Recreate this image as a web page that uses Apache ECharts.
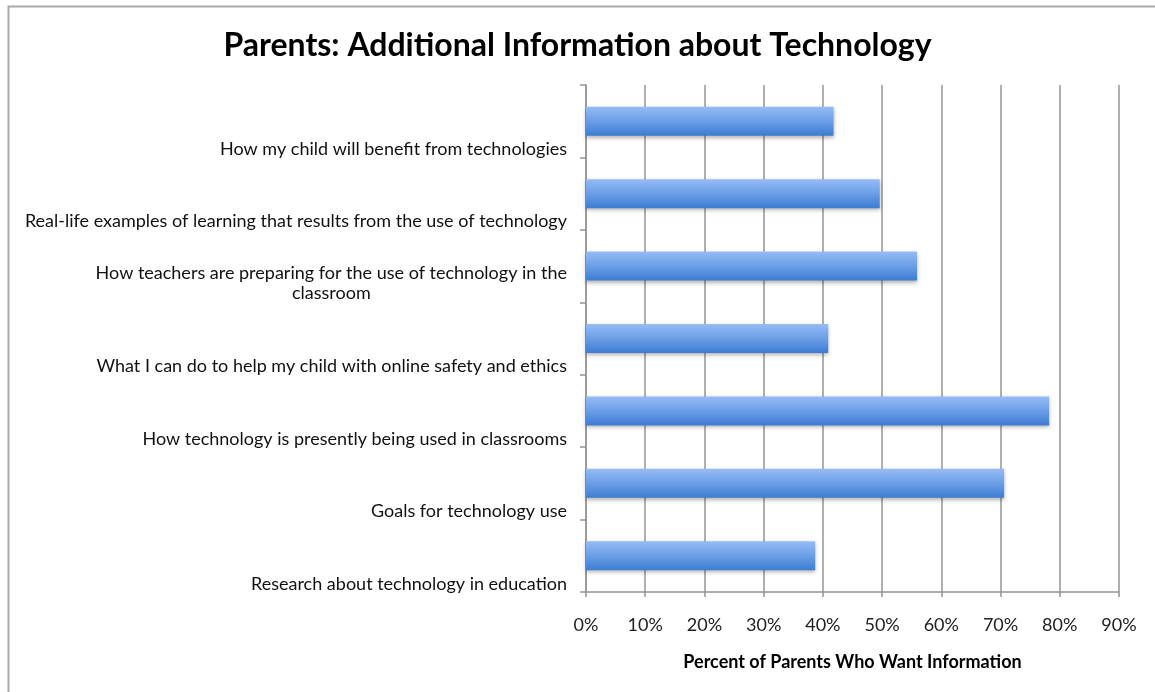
<!DOCTYPE html>
<html>
<head>
<meta charset="utf-8">
<script src="https://cdn.jsdelivr.net/npm/echarts@6/dist/echarts.min.js"></script>
<style>
  html, body { margin: 0; padding: 0; background: #fff; }
  #chart { width: 1155px; height: 692px; }
</style>
</head>
<body>
<div id="chart"></div>
<script>
// Survey topics, listed top to bottom
const topics = [
  'How my child will benefit from technologies',
  'Real-life examples of learning that results from the use of technology',
  'How teachers are preparing for the use of technology in the\nclassroom',
  'What I can do to help my child with online safety and ethics',
  'How technology is presently being used in classrooms',
  'Goals for technology use',
  'Research about technology in education'
];

// Share of parents wanting information on each topic (%)
const percentWanting = [41.8, 49.6, 55.9, 40.9, 78.2, 70.6, 38.7];

const titleText = 'Parents: Additional Information about Technology';
const xAxisName = 'Percent of Parents Who Want Information';

const FONT = 'Lato, "Open Sans", sans-serif';
const GRID_COLOR = '#949494';

const chart = echarts.init(document.getElementById('chart'), null, { renderer: 'canvas' });

chart.setOption({
  backgroundColor: '#ffffff',
  animation: false,
  title: {
    text: titleText,
    left: 'center',
    top: 25,
    textStyle: { fontFamily: FONT, fontSize: 32, fontWeight: 'bold', color: '#000' }
  },
  graphic: [{
    type: 'rect',
    left: 6, top: 4,
    shape: { width: 1300, height: 900 },
    style: { fill: 'none', stroke: '#a9a9a9', lineWidth: 2 },
    silent: true
  }],
  grid: { left: 586, right: 36, top: 85, bottom: 100, containLabel: false },
  xAxis: {
    type: 'value',
    min: 0, max: 90, interval: 10,
    name: xAxisName,
    nameLocation: 'middle',
    nameGap: 61,
    nameTextStyle: { fontFamily: FONT, fontSize: 18, fontWeight: 'bold', color: '#000' },
    axisLine: { show: true, lineStyle: { color: GRID_COLOR, width: 1.5 } },
    axisTick: { show: true, length: 5, lineStyle: { color: GRID_COLOR, width: 1.5 } },
    axisLabel: {
      margin: 24,
      formatter: v => v + '%',
      fontFamily: FONT, fontSize: 18, color: '#222'
    },
    splitLine: { show: true, lineStyle: { color: GRID_COLOR, width: 1.5 } }
  },
  yAxis: {
    type: 'category',
    data: topics,
    inverse: true,
    axisLine: { show: true, lineStyle: { color: GRID_COLOR, width: 1.5 } },
    axisTick: { show: true, length: 6, lineStyle: { color: GRID_COLOR, width: 1.5 } },
    axisLabel: {
      margin: 19,
      align: 'right',
      verticalAlign: 'top',
      lineHeight: 18,
      fontFamily: FONT, fontSize: 18, color: '#111',
      formatter: v => {
        const lines = v.split('\n');
        if (lines.length === 1) return '\n{c|' + v + '}';
        return lines.map(l => '{t|' + l + '}').join('\n');
      },
      rich: {
        c: { align: 'center', lineHeight: 20, fontFamily: FONT, fontSize: 18, color: '#111' },
        t: { align: 'center', lineHeight: 20, padding: [0, 0, 6, 0], fontFamily: FONT, fontSize: 18, color: '#111' }
      }
    }
  },
  series: [{
    type: 'bar',
    data: percentWanting,
    barWidth: '40%',
    itemStyle: {
      color: new echarts.graphic.LinearGradient(0, 0, 0, 1, [
        { offset: 0, color: '#95bcf5' },
        { offset: 0.5, color: '#6b9ee6' },
        { offset: 1, color: '#3d7cd3' }
      ]),
      shadowColor: 'rgba(0,0,0,0.3)',
      shadowBlur: 4,
      shadowOffsetY: 2
    }
  }]
});
</script>
</body>
</html>
